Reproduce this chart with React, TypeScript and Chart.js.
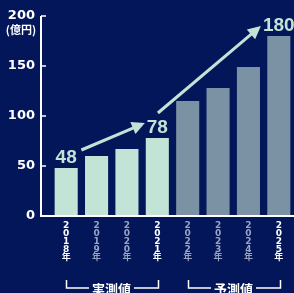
import React, { useEffect, useRef } from "react";
import { Chart, registerables } from "chart.js";

Chart.register(...registerables);

// ---- data ----
const years = ["2018", "2019", "2020", "2021", "2022", "2023", "2024", "2025"];
const values = [48, 60, 67, 78, 115, 128, 149, 180];
const isForecast = [false, false, false, false, true, true, true, true];
const highlightedYears = [true, false, false, true, false, false, false, true];
const yTickValues = [0, 50, 100, 150, 200];
const unitLabel = "(億円)";
const valueLabelIndexes = [0, 3, 7];
const groupLabels = ["実測値", "予測値"];
const groupStart = [0, 4];
const groupEnd = [3, 7];
// arrows: [fromIndex, fromValue] -> [toIndex, toValue]
const arrowFromIndex = [0.5, 3.02];
const arrowFromValue = [66, 103];
const arrowToIndex = [2.59, 6.41];
const arrowToValue = [93, 190];

// ---- styles ----
const BG = "#021659";
const MINT = "#c2e4d6";
const GREY = "#7a92a3";
const LABEL_GREY = "#9aa4c0";
const WHITE = "#ffffff";
const CJK = "'Noto Sans CJK JP', sans-serif";

const decoPlugin = {
  id: "deco",
  beforeDraw(chart: any) {
    const { ctx, width, height } = chart;
    ctx.save();
    ctx.fillStyle = BG;
    ctx.fillRect(0, 0, width, height);
    ctx.restore();
  },
  afterDraw(chart: any) {
    const { ctx, chartArea, scales } = chart;
    const xs = scales.x;
    const ys = scales.y;
    const axisX = chartArea.left - 10;
    const y0 = ys.getPixelForValue(0);
    const yTop = ys.getPixelForValue(yTickValues[yTickValues.length - 1]);
    ctx.save();
    // axes
    ctx.strokeStyle = WHITE;
    ctx.lineWidth = 2;
    ctx.beginPath();
    ctx.moveTo(axisX, yTop);
    ctx.lineTo(axisX, y0 + 1);
    ctx.moveTo(axisX - 1, y0);
    ctx.lineTo(chart.width, y0);
    ctx.stroke();
    ctx.lineWidth = 1.5;
    ctx.beginPath();
    yTickValues.forEach((v) => {
      if (v === 0) return;
      const py = ys.getPixelForValue(v);
      ctx.moveTo(axisX, py);
      ctx.lineTo(axisX + 5, py);
    });
    ctx.stroke();

    // unit label
    ctx.fillStyle = WHITE;
    ctx.font = "bold 11px " + CJK;
    ctx.textAlign = "center";
    ctx.textBaseline = "middle";
    ctx.fillText(unitLabel, 21, yTop + 14);

    // value labels
    ctx.fillStyle = MINT;
    ctx.font = "bold 19px 'Liberation Sans Narrow', 'Liberation Sans', sans-serif";
    ctx.textAlign = "center";
    ctx.textBaseline = "alphabetic";
    valueLabelIndexes.forEach((i) => {
      const px = xs.getPixelForValue(i);
      const py = ys.getPixelForValue(values[i]);
      ctx.fillText(String(values[i]), px, py - 5);
    });

    // arrows
    ctx.strokeStyle = MINT;
    ctx.fillStyle = MINT;
    ctx.lineWidth = 3;
    for (let k = 0; k < arrowFromIndex.length; k++) {
      const x1 = xs.getPixelForValue(arrowFromIndex[k]);
      const y1 = ys.getPixelForValue(arrowFromValue[k]);
      const x2 = xs.getPixelForValue(arrowToIndex[k]);
      const y2 = ys.getPixelForValue(arrowToValue[k]);
      const ang = Math.atan2(y2 - y1, x2 - x1);
      const headLen = 13;
      const headW = 6.5;
      const bx = x2 - headLen * Math.cos(ang);
      const by = y2 - headLen * Math.sin(ang);
      ctx.beginPath();
      ctx.moveTo(x1, y1);
      ctx.lineTo(bx + Math.cos(ang) * 2, by + Math.sin(ang) * 2);
      ctx.stroke();
      ctx.beginPath();
      ctx.moveTo(x2, y2);
      ctx.lineTo(bx + headW * Math.sin(ang), by - headW * Math.cos(ang));
      ctx.lineTo(bx - headW * Math.sin(ang), by + headW * Math.cos(ang));
      ctx.closePath();
      ctx.fill();
    }

    // group brackets
    ctx.strokeStyle = WHITE;
    ctx.fillStyle = WHITE;
    ctx.lineWidth = 1.5;
    ctx.font = "bold 13px " + CJK;
    ctx.textAlign = "center";
    ctx.textBaseline = "middle";
    const bTop = 280;
    const bBot = 288;
    for (let g = 0; g < groupLabels.length; g++) {
      const lx = Math.round(xs.getPixelForValue(groupStart[g])) + 0.5;
      const rx = Math.round(xs.getPixelForValue(groupEnd[g])) + 1.5;
      const cx = (lx + rx) / 2 - 1;
      const tw = ctx.measureText(groupLabels[g]).width;
      ctx.beginPath();
      ctx.moveTo(lx, bTop);
      ctx.lineTo(lx, bBot);
      ctx.lineTo(cx - tw / 2 - 3, bBot);
      ctx.moveTo(cx + tw / 2 + 3, bBot);
      ctx.lineTo(rx, bBot);
      ctx.lineTo(rx, bTop);
      ctx.stroke();
      ctx.fillText(groupLabels[g], cx, bBot + 1);
    }
    ctx.restore();
  },
};

export default function App() {
  const canvasRef = useRef<HTMLCanvasElement | null>(null);

  useEffect(() => {
    document.body.style.margin = "0";
    const canvas = canvasRef.current;
    if (!canvas) return;
    const chart = new Chart(canvas, {
      type: "bar",
      data: {
        labels: years.map((y) => [...y.split(""), "年"]),
        datasets: [
          {
            data: values,
            backgroundColor: isForecast.map((f) => (f ? GREY : MINT)),
            borderWidth: 0,
            categoryPercentage: 1,
            barPercentage: 0.76,
          },
        ],
      },
      options: {
        responsive: false,
        animation: false,
        events: [],
        layout: { padding: { top: 16, right: 0, left: 0, bottom: 0 } },
        plugins: {
          legend: { display: false },
          tooltip: { enabled: false },
        },
        scales: {
          x: {
            type: "category",
            grid: { display: false, drawTicks: false },
            border: { display: false },
            afterFit: (scale: any) => {
              scale.height = 77;
              scale.paddingLeft = 0;
              scale.paddingRight = 0;
            },
            ticks: {
              autoSkip: false,
              maxRotation: 0,
              minRotation: 0,
              padding: 5.5,
              color: (c: any) => (highlightedYears[c.index] ? WHITE : LABEL_GREY),
              font: {
                family: "'DejaVu Sans', 'Noto Sans CJK JP', sans-serif",
                size: 9,
                weight: "bold",
                lineHeight: "8.1px",
              },
            },
          },
          y: {
            min: 0,
            max: 200,
            grid: { display: false, drawTicks: false },
            border: { display: false },
            afterFit: (scale: any) => {
              scale.width = 51;
              scale.paddingTop = 0;
              scale.paddingBottom = 0;
            },
            afterBuildTicks: (scale: any) => {
              scale.ticks = yTickValues.map((v) => ({ value: v }));
            },
            ticks: {
              padding: 16,
              color: WHITE,
              font: { family: "'DejaVu Sans', sans-serif", size: 13, weight: "bold" },
            },
          },
        },
      },
      plugins: [decoPlugin],
    } as any);
    return () => chart.destroy();
  }, []);

  return (
    <div style={{ width: 294, height: 293, background: BG }}>
      <canvas ref={canvasRef} width={294} height={293} style={{ display: "block" }} />
    </div>
  );
}
